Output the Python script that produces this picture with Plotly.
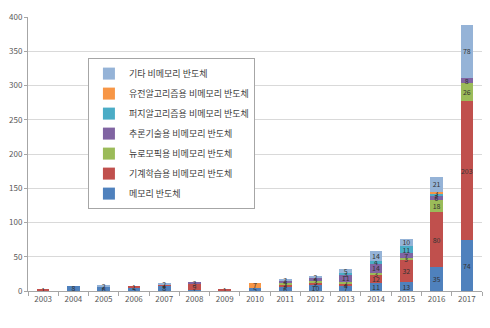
import plotly.graph_objects as go

years = [str(y) for y in range(2003, 2018)]

memory    = [1, 8, 6, 5, 8, 1, 1, 5, 6, 10, 7, 11, 13, 35, 74]
ml        = [1, 0, 0, 1, 1, 9, 1, 0, 3, 2, 4, 12, 32, 80, 203]
neuro     = [0, 0, 0, 0, 0, 0, 0, 0, 2, 3, 2, 3, 3, 18, 26]
inference = [0, 0, 0, 0, 1, 3, 0, 0, 4, 4, 11, 14, 7, 6, 8]
fuzzy     = [0, 0, 0, 0, 0, 0, 0, 0, 0, 0, 3, 4, 11, 3, 0]
genetic   = [0, 0, 0, 0, 0, 0, 0, 7, 0, 0, 0, 0, 0, 3, 0]
other     = [0, 0, 2, 0, 2, 0, 0, 0, 3, 2, 5, 14, 10, 21, 78]

series = [
    ("메모리 반도체", memory, "#4F81BD"),
    ("기계학습용 비메모리 반도체", ml, "#C0504D"),
    ("뉴로모픽용 비메모리 반도체", neuro, "#9BBB59"),
    ("추론기술용 비메모리 반도체", inference, "#8064A2"),
    ("퍼지알고리즘용 비메모리 반도체", fuzzy, "#4BACC6"),
    ("유전알고리즘용 비메모리 반도체", genetic, "#F79646"),
    ("기타 비메모리 반도체", other, "#95B3D7"),
]

FONT = "Noto Sans CJK KR, Noto Sans, sans-serif"

fig = go.Figure()
for i, (name, vals, color) in enumerate(series):
    fig.add_trace(go.Bar(
        name=name, x=years, y=vals,
        marker=dict(color=color, line=dict(width=0)),
        text=[str(v) if v > 0 else "" for v in vals],
        textposition="inside", insidetextanchor="middle", textangle=0,
        textfont=dict(size=7, color="#333333", family=FONT),
        legendgroup=str(i),
        legendrank=100 - i,
    ))

fig.update_layout(
    barmode="stack",
    bargap=0.58,
    width=490, height=328,
    margin=dict(l=28, r=8, t=17, b=37),
    paper_bgcolor="white", plot_bgcolor="white",
    font=dict(family=FONT, size=8, color="#595959"),
    uniformtext=dict(minsize=7, mode="show"),
    showlegend=True,
    legend=dict(
        x=0.132, y=0.85, xanchor="left", yanchor="top",
        traceorder="grouped", tracegroupgap=1,
        bordercolor="#A6A6A6", borderwidth=1, bgcolor="white",
        font=dict(size=9, color="#404040", family=FONT),
    ),
    xaxis=dict(
        type="category", showgrid=False,
        showline=True, linecolor="#A6A6A6", linewidth=1,
        ticks="outside", tickson="boundaries", ticklen=4, tickcolor="#A6A6A6",
        tickfont=dict(size=8, color="#595959"),
    ),
    yaxis=dict(
        range=[0, 400], dtick=50,
        showgrid=True, gridcolor="#D9D9D9", gridwidth=1,
        showline=True, linecolor="#A6A6A6", linewidth=1,
        ticks="outside", ticklen=3, tickcolor="#A6A6A6",
        tickfont=dict(size=8, color="#595959"),
        zeroline=False,
    ),
)

fig.write_html("out.html")
